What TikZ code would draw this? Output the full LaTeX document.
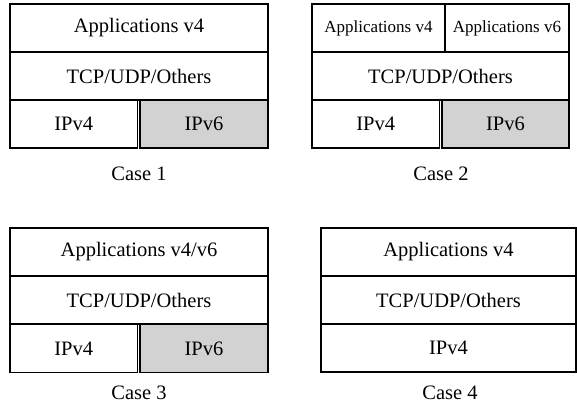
\documentclass[tikz,border=0pt]{standalone}
\usepackage{fontspec}
\setmainfont{Liberation Serif}
\usepackage{xcolor}
\usepackage{tikz}
\usetikzlibrary{positioning}
\definecolor{v6fill}{HTML}{D2D2D2}
\tikzset{
  layer/.style={
    draw=black,
    line width=1.3pt,
    fill=white,
    outer sep=0pt,
    inner sep=0pt,
    minimum height=48pt,
    font=\fontsize{20.5}{24}\selectfont
  },
  small/.style={font=\fontsize{17}{20}\selectfont},
  shaded/.style={fill=v6fill},
  caption/.style={font=\fontsize{20.5}{24}\selectfont, inner sep=0pt}
}

\begin{document}
\begin{tikzpicture}[x=1pt,y=-1pt]
\path[use as bounding box] (0,0) rectangle (577,411);

% Case 1
\node[layer, minimum width=258pt] (appA) at (139,28) {Applications v4};
\node[layer, minimum width=258pt, below=0pt of appA] (tcpA) {TCP/UDP/Others};
\node[layer, minimum width=127.5pt] (ipfourA) at (73.75,124) {IPv4};
\node[layer, shaded, minimum width=128pt] (ipsixA) at (204,124) {IPv6};
\node[caption] (capA) at (139,174) {Case 1};

% Case 2
\node[layer, small, minimum width=133pt] (appfourB) at (378.5,28) {Applications v4};
\node[layer, small, minimum width=124pt, right=0pt of appfourB] (appsixB) {Applications v6};
\node[layer, minimum width=257pt] (tcpB) at (440.5,76) {TCP/UDP/Others};
\node[layer, minimum width=127.5pt] (ipfourB) at (375.75,124) {IPv4};
\node[layer, shaded, minimum width=127pt] (ipsixB) at (505.5,124) {IPv6};
\node[caption] (capB) at (441,174) {Case 2};

% Case 3
\node[layer, minimum width=258pt] (appC) at (139,252) {Applications v4/v6};
\node[layer, minimum width=258pt, below=0pt of appC] (tcpC) {TCP/UDP/Others};
\node[layer, minimum width=127.5pt] (ipfourC) at (73.75,348.5) {IPv4};
\node[layer, shaded, minimum width=128pt] (ipsixC) at (204,348.5) {IPv6};
\node[caption] (capC) at (139,393) {Case 3};

% Case 4
\node[layer, minimum width=255pt] (appD) at (448.5,252) {Applications v4};
\node[layer, minimum width=255pt, below=0pt of appD] (tcpD) {TCP/UDP/Others};
\node[layer, minimum width=255pt, below=0pt of tcpD] (ipfourD) {IPv4};
\node[caption] (capD) at (450,393) {Case 4};
\end{tikzpicture}
\end{document}
